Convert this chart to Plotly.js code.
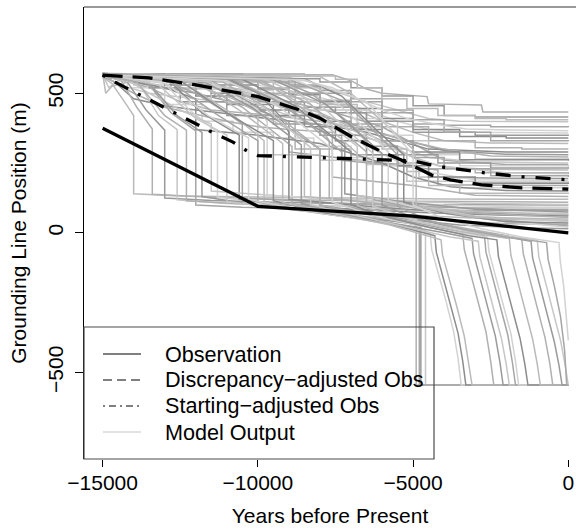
<!DOCTYPE html>
<html>
<head>
<meta charset="utf-8">
<script src="https://cdn.plot.ly/plotly-3.0.1.min.js"></script>
<style>html,body{margin:0;padding:0;background:#fff;}#chart{width:576px;height:530px;}</style>
</head>
<body>
<div id="chart"></div>
<script>
// ---------------- DATA (years before present, grounding line position in m) ----------------
const xTicks = [-15000, -10000, -5000, 0];
const yTicks = [-500, 0, 500];

const obsYears = [-15000, -10000, -5000, 0];
const obsPos   = [375, 95, 60, 0];

const discYears = [-15000, -13500, -12000, -10000, -8650, -8000, -7000, -6000, -5400, -4800, -4400, -3800, -2800, -1500, 0];
const discPos   = [565, 555, 530, 488, 440, 411, 345, 290, 262, 228, 207, 190, 172, 161, 157];

const startYears = [-15000, -14600, -13850, -12700, -11550, -10800, -10300, -10000, -7000, -5000, -4500, -4000, -2700, -1500, 0];
const startPos   = [565, 540, 497, 430, 365, 325, 290, 277, 265, 258, 245, 235, 215, 201, 190];

// model runs that stay high
const runsHigh = [
  [[-15000,-14900,-14700,-7600,-7000,-6500,-6000,-5000,-4550,-4500,-2800,-2750,0],[572,560,568,566,545,515,500,490,488,462,458,433,433]],
  [[-15000,-11000,-9000,-8000,-7000,-6000,-5000,-4000,-3000,0],[568,560,552,540,520,490,455,420,415,415]],
  [[-15000,-14800,-14500,-12000,-10000,-8500,-7500,-6500,-5500,-4500,-3500,-2000,0],[565,520,545,555,545,530,505,470,440,410,400,398,398]],
  [[-15000,-13000,-11000,-9000,-8000,-7000,-6000,-5000,-4000,-2500,0],[570,562,548,530,510,480,440,405,385,380,378]],
  [[-15000,-12500,-10500,-9500,-8500,-7500,-6500,-5500,-4500,-3000,0],[560,550,540,520,500,470,440,400,370,360,358]],
  [[-15000,-14000,-12000,-10000,-9000,-8000,-7000,-6000,-5000,-3500,-2000,0],[566,545,530,515,495,470,445,410,370,345,340,340]],
  [[-15000,-14900,-14700,-13500,-11500,-10000,-8500,-7000,-6000,-5000,-4000,-2500,0],[572,500,525,560,530,505,480,450,400,360,330,322,320]],
  [[-15000,-12000,-10000,-9000,-8000,-7000,-6000,-4500,-3000,-1500,0],[555,540,520,500,475,430,380,330,305,300,300]],
  [[-15000,-13000,-11000,-10000,-9000,-8000,-7000,-5500,-4000,-2000,0],[568,550,520,480,450,420,390,340,295,282,280]],
  [[-15000,-14000,-13000,-11000,-9500,-8000,-6500,-5500,-4500,-3000,0],[560,530,515,495,470,440,400,330,285,265,262]],
  [[-15000,-11500,-10500,-9000,-7500,-6000,-5000,-4000,-2000,0],[570,560,520,470,430,380,320,260,245,245]],
  [[-15000,-12500,-11000,-9500,-8500,-7000,-6000,-5000,-3500,0],[563,545,510,470,440,410,350,280,240,235]],
  [[-15000,-14600,-14000,-13000,-12000,-10500,-9000,-7800,-6500,-5500,-4500,-2000,0],[560,540,480,455,440,420,400,385,360,330,300,290,290]],
  [[-15000,-8500,-7500,-6800,-6000,-5200,-4200,-3000,-2000,0],[570,562,550,520,480,445,420,410,405,405]],
  [[-15000,-13500,-12500,-11500,-10500,-9500,-8000,-6500,-5200,-4000,-2500,0],[566,520,470,440,430,420,400,370,330,300,275,272]],
  [[-15000,-13800,-12800,-11500,-10000,-8500,-7500,-6500,-5000,-3000,0],[568,550,520,490,470,450,430,400,360,350,348]],
  [[-15000,-14500,-13500,-12000,-10500,-9500,-8500,-7500,-6500,-5500,-4500,-3000,0],[566,530,500,480,460,440,400,370,340,310,270,255,250]],
  [[-15000,-12000,-10000,-9000,-8000,-7000,-6000,-5000,-4000,-2500,0],[570,555,540,525,500,470,430,390,360,330,328]],
  [[-15000,-9500,-8500,-7600,-6800,-6000,-5200,-4300,-3300,-1800,0],[568,560,545,520,480,440,410,390,372,368,366]],
  [[-15000,-13000,-12000,-11000,-10000,-9000,-8000,-7000,-6000,-5000,-3500,0],[565,530,490,460,440,420,400,370,330,290,262,258]]
];

// model runs ending at mid positions
const runsMid = [
  [[-15000,-13000,-11000,-9500,-8000,-7000,-6000,-5000,-4000,-2500,0],[566,550,520,480,430,380,330,270,235,228,225]],
  [[-15000,-12000,-10000,-8800,-8800,-7000,-5500,-4500,-3000,0],[570,545,500,440,300,280,250,230,215,210]],
  [[-15000,-14000,-12000,-10500,-9000,-9000,-7500,-6000,-4800,-4800,-2000,0],[560,540,500,460,400,290,270,250,240,200,196,195]],
  [[-15000,-13500,-11500,-10000,-10000,-8000,-6500,-5200,-5200,-3000,0],[565,520,470,420,280,260,245,230,185,182,180]],
  [[-15000,-12500,-11000,-9800,-8300,-7300,-7300,-5500,-4200,-4200,0],[572,550,510,470,420,380,260,240,225,172,170]],
  [[-15000,-14200,-13000,-11800,-10800,-9500,-8200,-7000,-6000,-4800,-3500,0],[568,520,460,400,360,340,310,270,240,200,162,160]],
  [[-15000,-13000,-12000,-12000,-10000,-8000,-6000,-5000,-3800,-2000,0],[562,520,480,370,350,320,250,200,165,152,150]],
  [[-15000,-11000,-9500,-8000,-6800,-6000,-5200,-4500,-3500,0],[570,555,520,460,380,300,220,170,142,140]],
  [[-15000,-14000,-13000,-11000,-10000,-9000,-7600,-7600,-5000,-3000,0],[565,500,450,400,380,370,360,200,170,135,130]],
  [[-15000,-14000,-13500,-12500,-11000,-9500,-8000,-6500,-5500,-4200,-2500,0],[570,555,520,470,420,390,350,310,280,250,232,230]],
  [[-15000,-12000,-11000,-10200,-9200,-8200,-7200,-6200,-5200,-4200,-2000,0],[562,545,520,490,455,420,380,330,280,240,215,212]],
  [[-15000,-10500,-9500,-8800,-8000,-7000,-6000,-5000,-4000,-2500,0],[570,560,540,500,450,390,330,270,230,205,200]],
  [[-15000,-11500,-10200,-9200,-8300,-7300,-6300,-5400,-4400,-3000,0],[566,552,520,470,420,360,300,250,215,190,188]],
  [[-15000,-13000,-11500,-10500,-9500,-8500,-7500,-6500,-5500,-4500,-3000,0],[570,540,500,460,420,380,330,280,240,200,178,175]]
];

// model runs that drop to the low band and stay
const runsLow = [
  [[-15000,-14700,-14300,-14000,-14000,-12500,-10000,-7000,-4000,0],[558,535,470,420,140,132,128,124,121,120]],
  [[-15000,-14400,-13900,-13400,-13400,-12000,-10000,-7500,-5000,-2500,0],[566,545,450,372,138,130,122,116,113,111,110]],
  [[-15000,-14200,-13600,-13000,-13000,-11500,-9500,-7000,-4500,0],[570,540,440,368,125,116,110,104,101,100]],
  [[-15000,-13800,-13200,-12600,-12600,-11000,-8500,-6000,-3500,0],[564,530,420,370,118,105,98,94,91,90]],
  [[-15000,-13600,-12800,-12000,-12000,-10500,-8000,-5500,-3000,0],[572,545,430,365,100,92,86,82,80,80]],
  [[-15000,-13000,-12200,-11300,-11300,-9800,-7500,-5000,-2500,0],[566,535,440,360,128,108,95,82,73,70]],
  [[-15000,-12800,-11800,-10600,-10600,-9000,-7000,-4500,-2000,0],[570,540,430,350,120,100,85,72,63,60]],
  [[-15000,-12500,-11000,-9800,-9800,-8200,-6500,-4500,-2000,0],[568,545,440,330,110,90,75,60,48,45]],
  [[-15000,-12000,-10500,-8900,-8900,-7500,-6000,-4000,-2000,0],[565,540,450,310,105,80,62,45,33,30]],
  [[-15000,-11500,-10000,-8000,-8000,-6500,-5000,-3500,-1500,0],[570,545,450,300,100,70,45,28,18,15]],
  [[-15000,-14300,-13500,-12500,-11500,-11500,-9000,-6000,-3000,0],[570,555,500,440,390,150,130,115,105,102]],
  [[-15000,-13000,-12000,-11000,-10500,-10500,-8000,-5000,-2000,0],[565,545,500,430,390,125,110,95,85,84]],
  [[-15000,-12000,-11000,-10000,-9700,-9700,-7000,-4000,-1000,0],[570,555,510,440,400,135,118,100,92,92]],
  [[-15000,-11000,-10000,-9300,-9000,-9000,-6500,-4000,-1500,0],[568,555,500,420,360,120,95,75,65,64]],
  [[-15000,-12500,-10800,-9500,-8500,-8500,-6000,-3500,-1000,0],[566,550,480,400,340,130,105,80,68,66]],
  [[-15000,-10500,-9500,-8500,-8000,-7700,-7700,-5500,-3000,0],[570,560,520,440,380,330,125,95,70,55]],
  [[-15000,-11000,-9500,-8200,-7200,-7200,-5200,-3000,0],[568,548,480,380,320,140,110,85,75]],
  [[-15000,-10000,-8800,-7800,-6800,-6800,-5000,-3000,0],[572,560,520,400,310,135,100,60,40]],
  [[-15000,-9500,-8300,-7000,-6300,-6300,-4800,-2500,0],[566,555,500,390,300,120,85,50,25]],
  [[-15000,-9000,-7800,-6600,-5800,-5800,-4500,-2000,0],[570,558,500,380,290,115,80,40,20]],
  [[-15000,-8500,-7300,-6200,-5300,-5300,-4000,-2000,0],[565,552,490,370,280,110,70,40,35]],
  [[-15000,-8000,-7000,-6000,-5000,-4900,-4900,-3000,0],[570,560,500,400,300,260,95,55,50]]
];

// model runs that collapse late
const runsCollapse = [
  [[-15000,-13900,-13000,-12300,-12300,-10000,-7500,-5500,-4900,-4900,0],[562,540,420,368,115,100,70,45,30,-545,-545]],
  [[-15000,-13500,-12600,-11800,-11800,-9500,-7000,-5200,-4750,-4750,0],[568,535,420,360,130,90,60,35,25,-545,-545]],
  [[-15000,-13200,-12000,-11000,-11000,-9000,-7000,-5000,-4600,-4600,0],[570,530,410,350,112,85,55,20,10,-545,-545]],
  [[-15000,-12800,-11400,-10000,-10000,-8000,-6000,-4800,-4800,0],[568,540,430,330,110,70,40,20,-545,-545]],
  [[-15000,-13000,-11600,-10300,-10300,-8500,-6500,-5000,-4450,-4400,-4200,-3950,-3700,-3550,-3450,0],[565,540,420,340,120,80,45,15,0,-60,-140,-240,-350,-450,-545,-545]],
  [[-15000,-12500,-11000,-9500,-9500,-8000,-6000,-4800,-4300,-4250,-4050,-3800,-3550,-3400,-3300,0],[570,545,430,330,115,75,40,5,-10,-70,-150,-250,-360,-460,-545,-545]],
  [[-15000,-12000,-10600,-9200,-9200,-7600,-5800,-4600,-4100,-4050,-3850,-3600,-3350,-3200,-3100,0],[566,540,440,320,108,70,30,-10,-25,-80,-160,-260,-370,-470,-545,-545]],
  [[-15000,-11200,-9600,-8000,-8000,-6000,-4200,-3400,-3350,-3150,-2900,-2650,-2500,-2400,0],[565,545,440,300,100,55,15,-5,-60,-145,-245,-355,-460,-545,-545]],
  [[-15000,-11800,-10200,-8600,-8600,-7000,-5500,-4000,-3100,-3050,-2850,-2600,-2350,-2200,-2100,0],[572,545,450,315,105,65,30,0,-20,-75,-160,-260,-370,-465,-545,-545]],
  [[-15000,-11500,-9800,-8300,-8300,-6800,-5200,-3800,-2900,-2850,-2650,-2400,-2150,-2000,-1900,0],[568,540,450,305,100,60,20,-15,-30,-85,-170,-270,-380,-470,-545,-545]],
  [[-15000,-10800,-9000,-7300,-7300,-5500,-3800,-2700,-2650,-2450,-2200,-1950,-1800,-1700,0],[570,550,450,290,100,50,10,-10,-70,-155,-255,-365,-465,-545,-545]],
  [[-15000,-11000,-9300,-7600,-7600,-6200,-4800,-3500,-2600,-2550,-2350,-2100,-1850,-1700,-1600,0],[565,545,450,300,110,60,25,0,-15,-70,-150,-250,-360,-460,-545,-545]],
  [[-15000,-10500,-8800,-7000,-7000,-5800,-4500,-3200,-2300,-2250,-2050,-1800,-1550,-1400,-1300,0],[570,550,455,290,100,55,20,-10,-25,-85,-170,-270,-380,-470,-545,-545]],
  [[-15000,-10000,-8500,-6800,-6800,-5000,-3500,-1900,-1850,-1650,-1400,-1150,-1000,-900,0],[566,550,455,285,98,45,5,-20,-80,-165,-270,-380,-470,-545,-545]],
  [[-15000,-10000,-8300,-6500,-6500,-5300,-4000,-2500,-1500,-1450,-1250,-1000,-750,-600,-500,0],[568,550,460,290,105,60,30,0,-20,-75,-160,-265,-375,-465,-545,-545]],
  [[-15000,-9500,-7800,-6000,-6000,-5000,-3800,-2300,-1200,-1150,-950,-700,-450,-300,-200,0],[566,548,460,285,100,55,20,-10,-30,-90,-175,-280,-390,-475,-545,-545]],
  [[-15000,-9800,-8000,-6300,-6300,-4800,-3000,-1000,-950,-750,-500,-250,-100,0],[568,552,460,285,95,40,0,-25,-85,-170,-275,-385,-475,-545]],
  [[-15000,-9000,-7200,-5500,-5500,-4500,-3300,-2000,-700,-650,-450,-250,-120,-50,0],[570,550,470,280,95,45,10,-15,-35,-95,-190,-300,-420,-545,-545]],
  [[-15000,-8500,-6500,-5000,-5000,-4000,-2800,-1500,-300,-260,-150,0],[565,548,470,280,100,50,15,-15,-35,-100,-190,-385]]
];

const legendLabels = ['Observation', 'Discrepancy\u2212adjusted Obs', 'Starting\u2212adjusted Obs', 'Model Output'];

// ---------------- STYLE ----------------
const grayShades = ['#b0b0b0', '#9a9a9a', '#c6c6c6', '#a6a6a6', '#d2d2d2', '#8c8c8c', '#bababa'];
const FONT = 'Liberation Sans, Arial, Helvetica, sans-serif';

const traces = [];
let k = 0;
function addRuns(group, stepEvery) {
  group.forEach((run, i) => {
    traces.push({
      x: run[0], y: run[1], type: 'scatter', mode: 'lines',
      line: {color: grayShades[k % grayShades.length], width: 1.5,
             shape: (stepEvery && i % 2 === 1) ? 'hv' : 'linear'},
      hoverinfo: 'skip', showlegend: false
    });
    k++;
  });
}
addRuns(runsHigh, true);
addRuns(runsMid, true);
addRuns(runsLow, false);
addRuns(runsCollapse, false);

traces.push({x: obsYears, y: obsPos, type: 'scatter', mode: 'lines',
  line: {color: '#000', width: 3.3}, showlegend: false, hoverinfo: 'skip'});
traces.push({x: discYears, y: discPos, type: 'scatter', mode: 'lines',
  line: {color: '#000', width: 3.3, dash: '20px,10px'}, showlegend: false, hoverinfo: 'skip'});
traces.push({x: startYears, y: startPos, type: 'scatter', mode: 'lines',
  line: {color: '#000', width: 3.3, dash: '3px,11px,15px,11px'}, showlegend: false, hoverinfo: 'skip'});

// legend drawn in paper coordinates of the plot area
const legRight = 0.7114, legTop = 0.292;
const rowY = [0.2323, 0.1748, 0.1173, 0.0597];
const sampleStyles = [
  {color: '#000', width: 1.2, dash: 'solid'},
  {color: '#000', width: 1.2, dash: '9px,5px'},
  {color: '#000', width: 1.2, dash: '2px,4px,7px,4px'},
  {color: '#c8c8c8', width: 1.2, dash: 'solid'}
];
const shapes = [
  {type: 'line', xref: 'paper', yref: 'paper', x0: 0, x1: 1, y0: 1, y1: 1, line: {color: '#777', width: 1.5}},
  {type: 'rect', xref: 'paper', yref: 'paper', x0: 0, x1: legRight, y0: 0, y1: legTop,
   line: {color: '#4a4a4a', width: 1.2}, fillcolor: 'rgba(0,0,0,0)'}
];
const annotations = [];
legendLabels.forEach((lab, i) => {
  shapes.push({type: 'line', xref: 'paper', yref: 'paper', x0: 0.0386, x1: 0.1159,
    y0: rowY[i], y1: rowY[i], line: sampleStyles[i]});
  annotations.push({xref: 'paper', yref: 'paper', x: 0.1606, y: rowY[i], xanchor: 'left', yanchor: 'middle',
    text: lab, showarrow: false, font: {family: FONT, size: 21.6, color: '#000'}});
});

const layout = {
  width: 576, height: 530,
  margin: {l: 84, r: 0, t: 7, b: 71, pad: 0},
  paper_bgcolor: '#fff', plot_bgcolor: '#fff',
  font: {family: FONT, size: 21, color: '#000'},
  showlegend: false,
  xaxis: {
    range: [-15600, 248], tickvals: xTicks, ticktext: xTicks.map(v => v < 0 ? '\u2212' + Math.abs(v) : String(v)),
    ticks: 'outside', ticklen: 7, tickwidth: 1, tickcolor: '#000',
    showline: false, showgrid: false, zeroline: false, ticklabelstandoff: -2,
    title: {text: 'Years before Present', font: {size: 21}, standoff: 15}
  },
  yaxis: {
    range: [-810, 809], tickvals: yTicks, ticktext: yTicks.map(v => v < 0 ? '\u2212' + Math.abs(v) : String(v)),
    ticks: 'outside', ticklen: 8, tickwidth: 1, tickcolor: '#000', tickangle: -90,
    showline: true, linecolor: '#000', linewidth: 1.2, mirror: false,
    showgrid: false, zeroline: false, ticklabelstandoff: 3,
    title: {text: 'Grounding Line Position (m)', font: {size: 21}, standoff: 12}
  },
  shapes: shapes,
  annotations: annotations
};

Plotly.newPlot('chart', traces, layout, {staticPlot: true, displayModeBar: false});
</script>
</body>
</html>
